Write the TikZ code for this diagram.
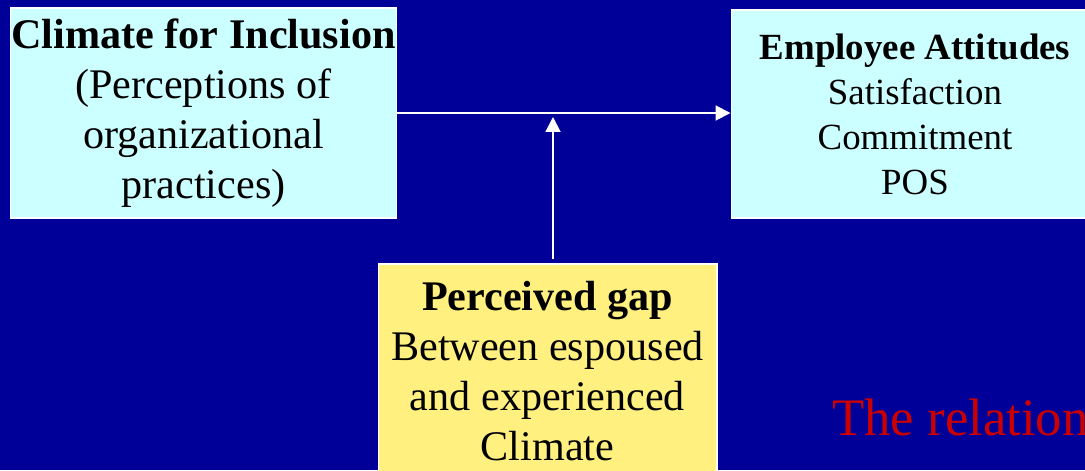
\documentclass[tikz,border=0pt]{standalone}
\usepackage{fontspec}
\setmainfont{Liberation Serif}
\usetikzlibrary{arrows.meta}
\definecolor{slideblue}{RGB}{0,0,153}
\definecolor{boxcyan}{RGB}{204,255,255}
\definecolor{boxyellow}{RGB}{255,240,128}
\definecolor{noteRed}{RGB}{204,0,0}
\begin{document}
\begin{tikzpicture}[x=0.02cm, y=-0.02cm,
		bx/.style={draw=white, line width=0.6pt, align=center, inner sep=0pt},
		big/.style={font=\fontsize{24}{28.5}\selectfont},
		ar/.style={-{Triangle[length=8.5pt, width=8.5pt]}, white, line width=1.1pt}]
		\useasboundingbox (0,0) rectangle (1085,470);
		\clip (0,0) rectangle (1085,470);
		\fill[slideblue] (0,0) rectangle (1085,470);
		\node[bx, big, fill=boxcyan, minimum width=7.74cm, minimum height=4.2cm] (clim) at (203.5,113)
			{\textbf{Climate for Inclusion}\\(Perceptions of\\organizational\\practices)};
		\node[bx, fill=boxcyan, minimum width=7.36cm, minimum height=4.16cm,
			font=\fontsize{21}{25.6}\selectfont] (att) at (915,114)
			{\textbf{Employee Attitudes}\\Satisfaction\\Commitment\\POS};
		\node[bx, big, fill=boxyellow, minimum width=6.78cm, minimum height=4.28cm] (gap) at (547.5,371)
			{\textbf{Perceived gap}\\Between espoused\\and experienced\\Climate};
		\node[anchor=base west, inner sep=0pt, text=noteRed, font=\fontsize{30}{36}\selectfont] (note) at (832,435)
			{The relation};
		% main path and the moderating gap
		\coordinate (join) at (553,117);
		\draw[ar] (clim.east) -- (clim.east -| att.west);
		\draw[ar] ([yshift=2.3pt]join |- gap.north) -- (join);
	\end{tikzpicture}
\end{document}
